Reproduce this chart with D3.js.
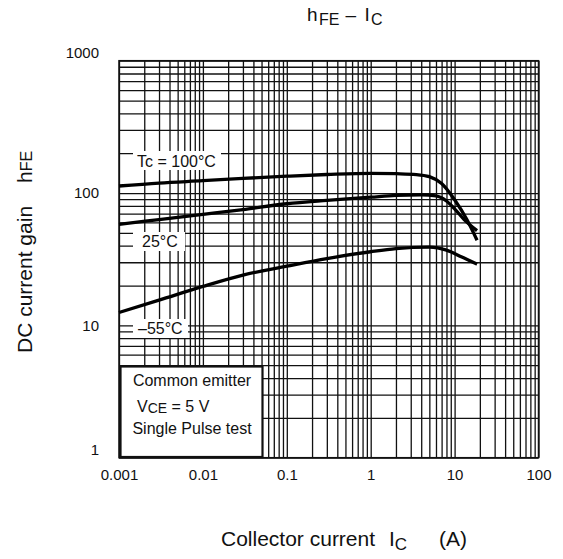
<!DOCTYPE html>
<html lang="en">
<head>
<meta charset="utf-8">
<title>hFE - IC</title>
<script src="https://cdn.jsdelivr.net/npm/d3@7"></script>
<style>
  body { margin: 0; background: #fff; }
  text { font-family: Arial, "Liberation Sans", sans-serif; fill: #111; }
</style>
</head>
<body>
<script>
// ---- data ----
var xTicks = [0.001, 0.01, 0.1, 1, 10, 100];
var xTickLabels = ["0.001", "0.01", "0.1", "1", "10", "100"];
var yTicks = [1, 10, 100, 1000];
var yTickLabels = ["1", "10", "100", "1000"];

// collector current (A) / DC current gain per case temperature
var ic100 = [0.001, 0.003, 0.01, 0.03, 0.1, 0.3, 1, 2, 3.5, 5, 7, 10, 14, 18.5];
var hfe100 = [113, 119, 124, 129, 134, 138, 141, 140, 138, 133, 118, 89, 63, 44];
var ic25 = [0.001, 0.003, 0.01, 0.03, 0.1, 0.3, 1, 2, 4, 6, 8, 10, 13, 18.5];
var hfe25 = [58, 63, 69, 75, 83, 88, 93, 96, 97, 95, 87, 76, 63, 52];
var icm55 = [0.001, 0.003, 0.01, 0.03, 0.1, 0.3, 1, 2, 5, 8, 12, 18.5];
var hfem55 = [12.5, 15.5, 19.7, 24, 28, 32, 36, 38, 39, 37, 33, 29];

// ---- layout ----
var width = 563, height = 559;
var plotLeft = 119, plotRight = 538.5, plotTop = 60.7, plotBottom = 457.7;

var svg = d3.select("body").append("svg")
  .attr("width", width).attr("height", height);

var x = d3.scaleLog().domain([0.001, 100]).range([plotLeft, plotRight]);
var y = d3.scaleLog().domain([1, 1000]).range([plotBottom, plotTop]);

// minor + major grid values
function logGrid(lo, hi) {
  var v = [];
  for (var d = lo; d < hi * 0.999; d *= 10) {
    for (var k = 1; k < 10; k++) v.push(d * k);
  }
  v.push(hi);
  return v;
}

// grid lines
svg.append("g")
  .attr("transform", "translate(0," + plotBottom + ")")
  .call(d3.axisBottom(x).tickValues(logGrid(0.001, 100)).tickSize(-(plotBottom - plotTop)).tickFormat(""))
  .call(function (g) { g.select(".domain").remove(); })
  .selectAll("line").attr("stroke", "#111").attr("stroke-width", 1.3);

svg.append("g")
  .attr("transform", "translate(" + plotLeft + ",0)")
  .call(d3.axisLeft(y).tickValues(logGrid(1, 1000)).tickSize(-(plotRight - plotLeft)).tickFormat(""))
  .call(function (g) { g.select(".domain").remove(); })
  .selectAll("line").attr("stroke", "#111").attr("stroke-width", 1.3);

// frame
svg.append("rect")
  .attr("x", plotLeft).attr("y", plotTop)
  .attr("width", plotRight - plotLeft).attr("height", plotBottom - plotTop)
  .attr("fill", "none").attr("stroke", "#111").attr("stroke-width", 1.5);

// tick labels
var xAxis = svg.append("g")
  .attr("transform", "translate(0," + plotBottom + ")")
  .call(d3.axisBottom(x).tickValues(xTicks).tickSize(0).tickPadding(12)
    .tickFormat(function (d, i) { return xTickLabels[i]; }));
xAxis.select(".domain").remove();
xAxis.selectAll("text").style("font-size", "15px").attr("fill", "#111");

var yAxis = svg.append("g")
  .attr("transform", "translate(" + plotLeft + ",0)")
  .call(d3.axisLeft(y).tickValues(yTicks).tickSize(0).tickPadding(20)
    .tickFormat(function (d, i) { return yTickLabels[i]; }));
yAxis.select(".domain").remove();
yAxis.selectAll("text").style("font-size", "15px").attr("fill", "#111")
  .attr("dy", function (d) { return (d === 1 || d === 1000) ? "-0.2em" : "0.32em"; });

// curves
var line = d3.line()
  .x(function (d) { return x(d[0]); })
  .y(function (d) { return y(d[1]); })
  .curve(d3.curveMonotoneX);

[[ic100, hfe100], [ic25, hfe25], [icm55, hfem55]].forEach(function (s) {
  var pts = s[0].map(function (v, i) { return [v, s[1][i]]; });
  svg.append("path")
    .attr("d", line(pts))
    .attr("fill", "none")
    .attr("stroke", "#000")
    .attr("stroke-width", 3.3)
    .attr("stroke-linecap", "butt");
});

// curve labels
var labels = [
  { t: "Tc = 100\u00b0C", bx: 133, by: 151, bw: 88, bh: 19, tx: 137, ty: 167 },
  { t: "25\u00b0C", bx: 133, by: 232, bw: 52, bh: 19, tx: 142, ty: 247 },
  { t: "\u201355\u00b0C", bx: 133, by: 319, bw: 55, bh: 19, tx: 138, ty: 334 }
];
labels.forEach(function (l) {
  svg.append("rect").attr("x", l.bx).attr("y", l.by)
    .attr("width", l.bw).attr("height", l.bh).attr("fill", "#fff");
  svg.append("text").attr("x", l.tx).attr("y", l.ty)
    .style("font-size", "16px").text(l.t);
});

// condition box
svg.append("rect")
  .attr("x", 120.5).attr("y", 366.5)
  .attr("width", 142).attr("height", 90.5)
  .attr("fill", "#fff").attr("stroke", "#111").attr("stroke-width", 2.2);

svg.append("text").attr("x", 192).attr("y", 386).attr("text-anchor", "middle")
  .style("font-size", "16px").text("Common emitter");
var vce = svg.append("text").attr("x", 137).attr("y", 412).style("font-size", "16px");
vce.append("tspan").text("V");
vce.append("tspan").style("font-size", "14px").attr("dy", 1).text("CE");
vce.append("tspan").attr("dy", -1).text(" = 5 V");
svg.append("text").attr("x", 192).attr("y", 434).attr("text-anchor", "middle")
  .style("font-size", "16px").text("Single Pulse test");

// title
var title = svg.append("text").attr("y", 21).style("font-size", "19px");
title.append("tspan").attr("x", 307).text("h");
title.append("tspan").attr("x", 319).attr("dy", 4).style("font-size", "16px").text("FE");
title.append("tspan").attr("x", 345.5).attr("dy", -4).text("\u2013");
title.append("tspan").attr("x", 364.5).text("I");
title.append("tspan").attr("x", 371).attr("dy", 4).style("font-size", "16px").text("C");

// x axis label
svg.append("text").attr("x", 221).attr("y", 546).style("font-size", "21px").text("Collector current");
var ic = svg.append("text").attr("x", 389).attr("y", 546).style("font-size", "21px");
ic.append("tspan").text("I");
ic.append("tspan").attr("dy", 4).style("font-size", "17px").text("C");
svg.append("text").attr("x", 439).attr("y", 546).style("font-size", "21px").text("(A)");

// y axis label
var yl = svg.append("g").attr("transform", "translate(32,0) rotate(-90)");
yl.append("text").attr("x", -353).attr("y", 0).style("font-size", "21px").text("DC current gain");
var hl = yl.append("text").attr("x", -183).attr("y", 0).style("font-size", "21px");
hl.append("tspan").text("h");
hl.append("tspan").style("font-size", "16px").text("FE");
</script>
</body>
</html>
